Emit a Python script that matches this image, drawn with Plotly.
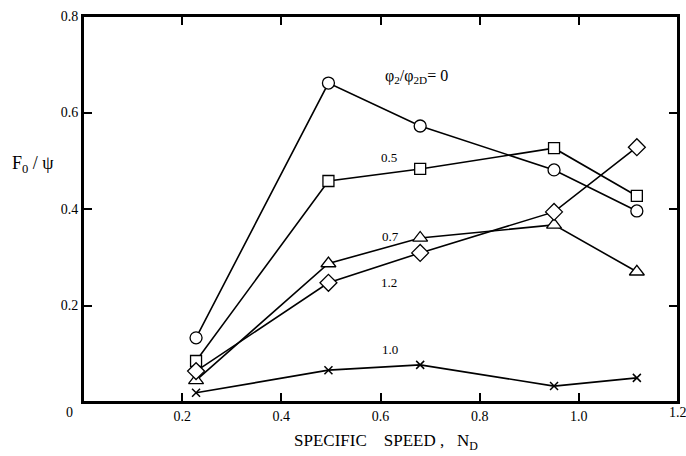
import plotly.graph_objects as go

# specific speed N_D
nd = [0.228, 0.495, 0.68, 0.95, 1.117]

# F0/psi for each phi2/phi2D
f_00 = [0.133, 0.661, 0.572, 0.481, 0.396]
f_05 = [0.085, 0.458, 0.483, 0.526, 0.427]
f_07 = [0.045, 0.287, 0.340, 0.367, 0.270]
f_12 = [0.064, 0.247, 0.309, 0.394, 0.528]
f_10 = [0.019, 0.066, 0.077, 0.033, 0.050]

series = [
    ("0", f_00, "circle", 12),
    ("0.5", f_05, "square", 11),
    ("0.7", f_07, "triangle-up", 13),
    ("1.2", f_12, "diamond", 13),
    ("1.0", f_10, "x-thin-open", 8),
]

labels = [
    ("\u03c6<sub>2</sub>/\u03c6<sub>2D</sub>= 0", 0.673, 0.674, 16),
    ("0.5", 0.618, 0.506, 13),
    ("0.7", 0.62, 0.344, 13),
    ("1.2", 0.618, 0.247, 13),
    ("1.0", 0.62, 0.108, 13),
]

xticks = [0.2, 0.4, 0.6, 0.8, 1.0, 1.2]
yticks = [0.2, 0.4, 0.6, 0.8]

font = "Liberation Serif, Times New Roman, serif"
tickfont = dict(family=font, size=14, color="black")

fig = go.Figure()
for name, ys, sym, size in series:
    if sym.startswith("x"):
        marker = dict(symbol=sym, size=size, color="black",
                      line=dict(color="black", width=1.5))
    else:
        marker = dict(symbol=sym, size=size, color="white",
                      line=dict(color="black", width=1.3))
    fig.add_trace(go.Scatter(
        x=nd, y=ys, mode="lines+markers", name=name,
        line=dict(color="black", width=1.6),
        marker=marker,
        showlegend=False,
    ))

annotations = []
for txt, x, y, s in labels:
    annotations.append(dict(x=x, y=y, xref="x", yref="y", text=txt,
                            showarrow=False, font=dict(family=font, size=s, color="black")))

annotations.append(dict(x=-0.084, y=0.615, xref="paper", yref="paper",
                        xanchor="center", yanchor="middle",
                        text="F<sub>0</sub> / \u03c8", showarrow=False,
                        font=dict(family=font, size=18, color="black")))
annotations.append(dict(x=0.509, y=-0.104, xref="paper", yref="paper",
                        xanchor="center", yanchor="middle",
                        text="SPECIFIC\u00a0\u00a0\u00a0\u00a0SPEED\u00a0,\u00a0\u00a0\u00a0N<sub>D</sub>",
                        showarrow=False, font=dict(family=font, size=17, color="black")))
annotations.append(dict(x=-0.022, y=-0.027, xref="paper", yref="paper", text="0",
                        xanchor="center", yanchor="middle",
                        showarrow=False, font=dict(family=font, size=14, color="black")))
# last x tick label sits on the frame corner
annotations.append(dict(x=1.0, y=-0.027, xref="paper", yref="paper", text="1.2",
                        xanchor="center", yanchor="middle",
                        showarrow=False, font=dict(family=font, size=14, color="black")))

fig.update_layout(
    width=686, height=456,
    margin=dict(l=83, r=8, t=16, b=54),
    plot_bgcolor="white", paper_bgcolor="white",
    font=dict(family=font, size=14, color="black"),
    annotations=annotations,
    shapes=[dict(type="rect", xref="paper", yref="paper", x0=0, x1=1, y0=0, y1=1,
                 line=dict(color="black", width=2))],
    xaxis=dict(range=[0, 1.2], tickvals=xticks[:-1], ticktext=[f"{v:.1f}" for v in xticks[:-1]],
               tickfont=tickfont, automargin=False,
               showgrid=False, zeroline=False, showline=True, linecolor="black",
               linewidth=2, mirror="ticks", ticks="inside", ticklen=9, tickwidth=2,
               tickcolor="black"),
    yaxis=dict(range=[0, 0.8], tickvals=yticks, ticktext=[f"{v:.1f}" for v in yticks],
               tickfont=tickfont, automargin=False,
               showgrid=False, zeroline=False, showline=True, linecolor="black",
               linewidth=2, mirror="ticks", ticks="inside", ticklen=9, tickwidth=2,
               tickcolor="black"),
)

# drop the page's default body margin and scrollbars so the figure fills the window
fig.write_html("out.html", config={"displayModeBar": False},
               post_script="document.body.style.margin='0';document.body.style.overflow='hidden';"
                           "document.documentElement.style.overflow='hidden';")
